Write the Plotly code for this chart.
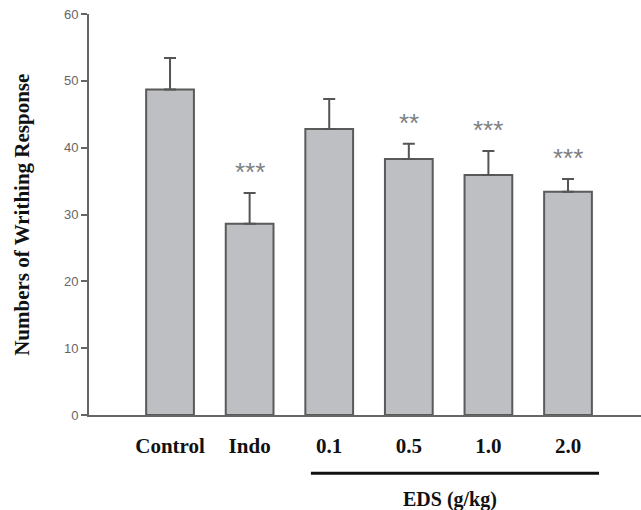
import plotly.graph_objects as go

categories = ["Control", "Indo", "0.1", "0.5", "1.0", "2.0"]
means = [48.7, 28.6, 42.8, 38.3, 35.9, 33.4]
sems = [4.7, 4.6, 4.5, 2.3, 3.6, 1.9]
stars = ["", "***", "", "**", "***", "***"]
y_ticks = [0, 10, 20, 30, 40, 50, 60]
group_label = "EDS (g/kg)"
y_title = "Numbers of Writhing Response"

xpos = list(range(len(categories)))

fig = go.Figure()
fig.add_trace(go.Bar(
    x=xpos, y=means, width=0.6,
    marker=dict(color="#bebfc3", line=dict(color="#5a5a5a", width=2)),
    error_y=dict(type="data", array=sems, arrayminus=[0]*len(sems), symmetric=False,
                 color="#555555", thickness=2, width=6),
    showlegend=False, hoverinfo="skip",
))

for i, (s, m, e) in enumerate(zip(stars, means, sems)):
    if s:
        fig.add_annotation(x=xpos[i], y=m + e, yshift=4, text=s, showarrow=False,
                           yanchor="bottom", xanchor="center",
                           font=dict(family="Liberation Sans, Arial", size=26, color="#808080"))

# group bracket line under EDS doses
fig.add_shape(type="line", xref="x", yref="paper", x0=xpos[2] - 0.23, x1=xpos[5] + 0.39,
              y0=-0.145, y1=-0.145, line=dict(color="#111111", width=3))
fig.add_annotation(x=(xpos[2] + xpos[5]) / 2 + 0.02, xref="x", y=-0.21, yref="paper",
                   text="<b>%s</b>" % group_label, showarrow=False, yanchor="middle",
                   font=dict(family="Liberation Serif, Times New Roman", size=20, color="#111111"))
fig.add_annotation(x=-0.148, xref="paper", y=0.5, yref="paper", text="<b>%s</b>" % y_title,
                   textangle=-90, showarrow=False,
                   font=dict(family="Liberation Serif, Times New Roman", size=21, color="#111111"))

fig.update_layout(
    width=641, height=510,
    margin=dict(l=89, r=0, t=14, b=95),
    plot_bgcolor="white", paper_bgcolor="white",
    bargap=0.4,
)
fig.update_xaxes(
    range=[-1.018, 5.917], tickvals=xpos, ticktext=["<b>%s</b>" % c for c in categories],
    showline=True, linecolor="#666666", linewidth=2, ticks="", showgrid=False, zeroline=False,
    ticklabelstandoff=11,
    tickfont=dict(family="Liberation Serif, Times New Roman", size=21, color="#111111"),
)
fig.update_yaxes(
    range=[0, 60], tickvals=y_ticks, showline=True, linecolor="#666666", linewidth=2,
    ticks="outside", ticklen=6, tickwidth=2, tickcolor="#666666", showgrid=False, zeroline=False,
    tickfont=dict(family="Liberation Sans, Arial", size=13, color="#666666"),
)

fig.write_html("out.html", config={"displayModeBar": False},
               post_script="document.body.style.margin='0';document.body.style.overflow='hidden';")
